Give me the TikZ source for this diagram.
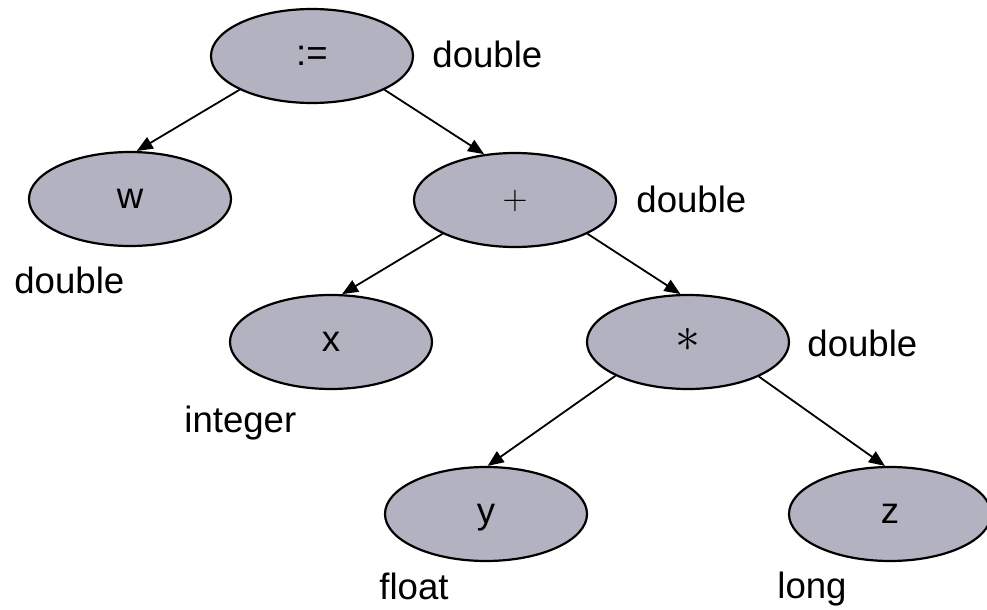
\documentclass[tikz,border=0pt]{standalone}
\usepackage{fontspec}
\setmainfont{Liberation Sans}
\usepackage{xcolor}
\usetikzlibrary{shapes.geometric, arrows.meta}
\definecolor{nodefill}{RGB}{179,178,192}

\begin{document}
\begin{tikzpicture}[x=0.5pt, y=-0.5pt,
    op/.style={ellipse, draw, line width=1.1pt, fill=nodefill, minimum width=101pt, minimum height=47pt, inner sep=0pt, text height=9.5pt, text depth=0pt, font=\fontsize{18.3}{22}\selectfont},
    typ/.style={anchor=base west, inner sep=0pt, font=\fontsize{18.3}{22}\selectfont},
    edge/.style={line width=0.9pt, -{Triangle[length=8pt, width=6.5pt]}}]
    \useasboundingbox (0,0) rectangle (987,610);

    % Tree nodes
    \node[op] (assign) at (312,56) {:=};
    \node[op] (w) at (130,199) {w};
    \node[op] (plus) at (515,200) {{\fontsize{17}{20}\selectfont$+$}};
    \node[op] (x) at (331,342) {x};
    \node[op] (mul) at (688,342) {{\fontsize{25}{30}\selectfont$\ast$}};
    \node[op] (y) at (486,514) {y};
    \node[op] (z) at (890,514) {z};

    % Type labels
    \node[typ] (tassign) at (432,68) {double};
    \node[typ] (tw) at (14,293) {double};
    \node[typ] (tplus) at (636,213) {double};
    \node[typ] (tx) at (184,432) {integer};
    \node[typ] (tmul) at (807,357) {double};
    \node[typ] (ty) at (379,599) {float};
    \node[typ] (tz) at (777,598) {long};

    % Edges
    \foreach \a/\sa/\b/\sb in {assign/205/w/82, assign/335/plus/124, plus/205/x/77, plus/335/mul/99, mul/205/y/88, mul/334/z/96} {
        \draw[edge] (\a.\sa) -- (\b.\sb);
    }
\end{tikzpicture}
\end{document}
